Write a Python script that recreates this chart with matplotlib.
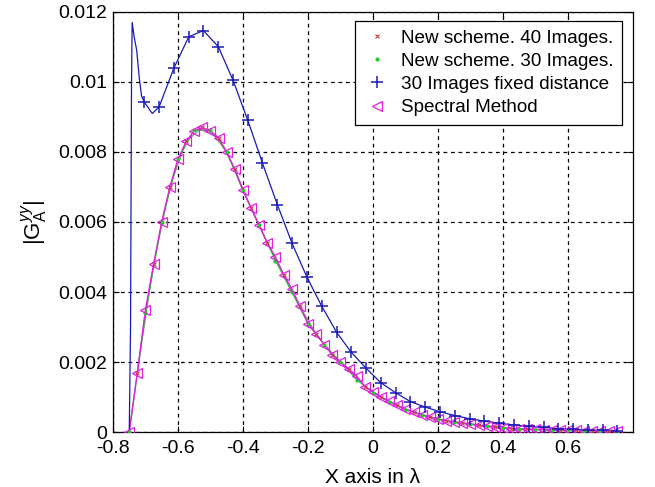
#!/usr/bin/env python

import matplotlib
matplotlib.use("Agg")
import matplotlib.pyplot as plt
import numpy as np

plt.rcParams["font.family"] = ["Liberation Sans", "DejaVu Sans"]
plt.rcParams["mathtext.fontset"] = "custom"
plt.rcParams["mathtext.rm"] = "Liberation Sans"
plt.rcParams["mathtext.it"] = "Liberation Sans:italic"

# Spectral method (reference curve)
spectral_x = [-0.750, -0.725, -0.700, -0.675, -0.650, -0.625, -0.600, -0.575, -0.550, -0.525,
              -0.500, -0.475, -0.450, -0.425, -0.400, -0.375, -0.350, -0.325, -0.300, -0.275,
              -0.250, -0.225, -0.200, -0.175, -0.150, -0.125, -0.100, -0.075, -0.050, -0.025,
              0.000, 0.025, 0.050, 0.075, 0.100, 0.125, 0.150, 0.175, 0.200, 0.225,
              0.250, 0.275, 0.300, 0.325, 0.350, 0.375, 0.400, 0.425, 0.450, 0.475,
              0.500, 0.525, 0.550, 0.575, 0.600, 0.625, 0.650, 0.675, 0.700, 0.725, 0.750]
spectral_y = [0.0, 0.0017, 0.0035, 0.0048, 0.0060, 0.0070, 0.0078, 0.0083, 0.0086, 0.0087,
              0.0086, 0.0084, 0.0080, 0.0075, 0.0069, 0.0064, 0.0059, 0.0054, 0.0050, 0.0045,
              0.0041, 0.0036, 0.0031, 0.0028, 0.0025, 0.0022, 0.0020, 0.0018, 0.0016, 0.0013,
              0.00115, 0.0010, 0.00088, 0.00076, 0.00065, 0.00057, 0.00050, 0.00043, 0.00037, 0.00032,
              0.00029, 0.00026, 0.00023, 0.00020, 0.00017, 0.00015, 0.00012, 0.00010, 0.00009, 0.00008,
              0.00008, 0.00007, 0.00006, 0.00006, 0.00005, 0.00005, 0.00004, 0.00004, 0.00003, 0.00003, 0.00003]

# New scheme, 30 images
new30_x = [-0.75, -0.70, -0.65, -0.60, -0.55, -0.50, -0.45, -0.40, -0.35, -0.30, -0.25,
           -0.20, -0.15, -0.10, -0.05, 0.00, 0.05, 0.10, 0.15, 0.20, 0.25,
           0.30, 0.35, 0.40, 0.45, 0.50, 0.55, 0.60, 0.65, 0.70, 0.75]
new30_y = [0.0, 0.0034, 0.0060, 0.0078, 0.00862, 0.00862, 0.0080, 0.0069, 0.0059, 0.0049, 0.0040,
           0.0031, 0.0025, 0.0020, 0.0015, 0.00112, 0.00086, 0.00064, 0.00049, 0.00036, 0.00028,
           0.00022, 0.00016, 0.00012, 0.00009, 0.00007, 0.00006, 0.00005, 0.00004, 0.00003, 0.00003]

# New scheme, 40 images
new40_x = [-0.725, -0.675, -0.625, -0.575, -0.525, -0.475, -0.425, -0.375, -0.325, -0.275,
           -0.225, -0.175, -0.125, -0.075, -0.025, 0.025, 0.075, 0.125, 0.175, 0.225,
           0.275, 0.325, 0.375, 0.425, 0.475, 0.525, 0.575, 0.625, 0.675, 0.725]
new40_y = [0.0017, 0.0048, 0.0070, 0.0083, 0.0087, 0.0084, 0.0075, 0.0064, 0.0054, 0.0045,
           0.0036, 0.0028, 0.0022, 0.0018, 0.0013, 0.0010, 0.00076, 0.00057, 0.00043, 0.00032,
           0.00026, 0.00020, 0.00015, 0.00010, 0.00008, 0.00007, 0.00006, 0.00005, 0.00004, 0.00003]

# 30 images, fixed distance: spike at the left edge, then marked samples
fixed_spike_x = [-0.750, -0.746, -0.743, -0.741, -0.735, -0.727, -0.719, -0.712]
fixed_spike_y = [0.0, 0.0030, 0.0100, 0.0117, 0.0113, 0.0109, 0.0101, 0.0096]
fixed_x = [-0.704, -0.679, -0.658, -0.613, -0.567, -0.522, -0.476, -0.431, -0.385, -0.340,
           -0.294, -0.249, -0.203, -0.158, -0.112, -0.067, -0.021, 0.024, 0.070, 0.115,
           0.161, 0.206, 0.252, 0.297, 0.343, 0.388, 0.434, 0.479, 0.525, 0.570,
           0.616, 0.661, 0.707, 0.752]
fixed_y = [0.00943, 0.0091, 0.00929, 0.01039, 0.01129, 0.01147, 0.01101, 0.01006, 0.0089, 0.00768,
           0.00649, 0.00539, 0.00442, 0.0036, 0.00285, 0.00228, 0.00182, 0.00141, 0.00112, 0.00087,
           0.00071, 0.00058, 0.00047, 0.00038, 0.00031, 0.00025, 0.0002, 0.00016, 0.00013, 0.0001,
           0.00008, 0.00006, 0.00005, 0.00004]
fixed_min_index = 1  # the unmarked trough sample

x_ticks = [-0.8, -0.6, -0.4, -0.2, 0, 0.2, 0.4, 0.6]
x_tick_labels = ["-0.8", "-0.6", "-0.4", "-0.2", "0", "0.2", "0.4", "0.6"]
y_ticks = [0, 0.002, 0.004, 0.006, 0.008, 0.01, 0.012]
y_tick_labels = ["0", "0.002", "0.004", "0.006", "0.008", "0.01", "0.012"]

blue = "#1a1ab8"
magenta = "#e020e0"
green = "#22cc22"
red = "#c84040"

fig = plt.figure(figsize=(6.55, 4.87), dpi=100)
ax = fig.add_axes([0.1725, 0.1129, 0.7939, 0.8625])

# Lines
ax.plot(new40_x, new40_y, color="#909090", lw=0.8, zorder=2)
ax.plot(new30_x, new30_y, color=green, lw=0.9, zorder=2)
ax.plot(spectral_x, spectral_y, color=magenta, lw=1.0, zorder=3)
line_x = fixed_spike_x + fixed_x
line_y = fixed_spike_y + fixed_y
ax.plot(line_x, line_y, color=blue, lw=0.9, zorder=4)

# Markers
mk_x = [v for i, v in enumerate(fixed_x) if i != fixed_min_index]
mk_y = [v for i, v in enumerate(fixed_y) if i != fixed_min_index]
ax.plot(new40_x, new40_y, "x", color=red, ms=3.5, mew=0.8, ls="none",
        label="New scheme. 40 Images.", zorder=5)
ax.plot(new30_x, new30_y, ".", color=green, ms=4, ls="none",
        label="New scheme. 30 Images.", zorder=5)
ax.plot(mk_x, mk_y, "+", color=blue, ms=9, mew=1.1, ls="none",
        label="30 Images fixed distance", zorder=6)
ax.plot(spectral_x, spectral_y, "<", color=magenta, mfc="none", ms=7, mew=0.9,
        ls="none", label="Spectral Method", zorder=5)

ax.set_xlim(-0.8, 0.8)
ax.set_ylim(0, 0.012)
ax.set_xticks(x_ticks)
ax.set_xticklabels(x_tick_labels)
ax.set_yticks(y_ticks)
ax.set_yticklabels(y_tick_labels)
ax.tick_params(direction="in", top=True, right=True, labelsize=14, length=4, width=0.8)
ax.tick_params(axis="x", pad=6)
ax.tick_params(axis="y", pad=4)
ax.grid(True, color="black", linestyle=(0, (3, 3)), linewidth=0.9)
for s in ax.spines.values():
    s.set_linewidth(0.9)

ax.set_xlabel("X axis in λ", fontsize=15, labelpad=8)
ax.set_ylabel(r"$|\mathrm{G}_{\mathrm{A}}^{yy}|$", fontsize=16, labelpad=6)

leg = ax.legend(loc="upper right", bbox_to_anchor=(0.979, 0.979), borderaxespad=0,
                fontsize=13.6, fancybox=False, edgecolor="black", framealpha=1,
                handletextpad=0.5, labelspacing=0.32, borderpad=0.45, handlelength=1.5)
leg.get_frame().set_linewidth(0.9)

fig.savefig("out.png", dpi=100)
